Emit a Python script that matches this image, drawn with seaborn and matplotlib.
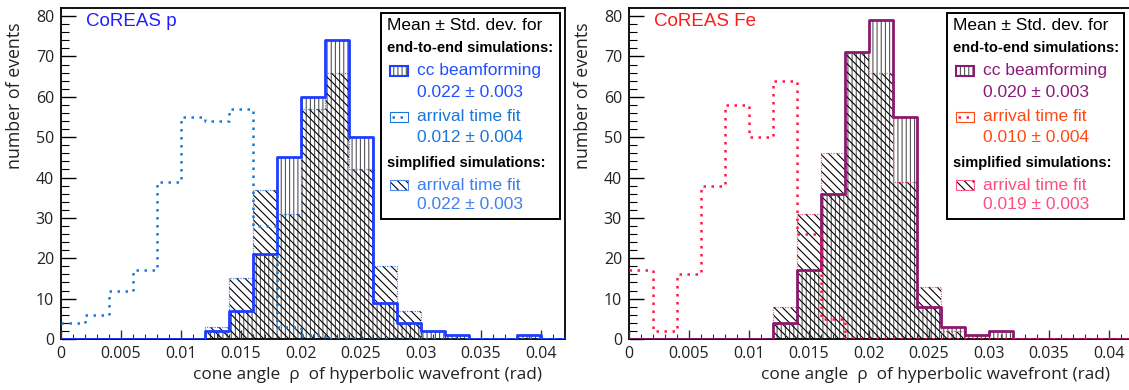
import numpy as np
import matplotlib
matplotlib.use("Agg")
import matplotlib.pyplot as plt
from matplotlib import font_manager
from matplotlib.patches import Rectangle
from matplotlib.ticker import MultipleLocator, FuncFormatter
import seaborn as sns

sns.set_style("ticks")
plt.rcParams['font.family'] = ['Open Sans', 'DejaVu Sans']
plt.rcParams.update({
    'hatch.linewidth': 0.8,
    'axes.axisbelow': False,
    'xtick.direction': 'in', 'ytick.direction': 'in',
    'xtick.labelcolor': '#222222', 'ytick.labelcolor': '#222222',
    'xtick.major.size': 0, 'xtick.minor.size': 0,
    'ytick.major.size': 0, 'ytick.minor.size': 0,
    'xtick.top': False, 'ytick.right': False,
    'xtick.labelsize': 11.5, 'ytick.labelsize': 11.5,
    'xtick.major.pad': 5, 'ytick.major.pad': 5,
})

# 21 bins of 0.002 rad from 0 to 0.042
bin_width = 0.002
bin_edges = np.round(np.arange(22) * bin_width, 3)

# CoREAS proton
p_cc = [0, 0, 0, 0, 0, 0, 2, 7, 21, 45, 60, 74, 50, 9, 4, 2, 1, 0, 0, 1, 0]
p_atf = [4, 6, 12, 17, 39, 55, 54, 57, 28, 3, 1, 0, 0, 0, 0, 0, 0, 0, 0, 0, 0]
p_simp = [0, 0, 0, 0, 0, 0, 3, 15, 37, 31, 57, 66, 42, 18, 7, 0, 0, 0, 0, 0, 0]
p_legend = ["0.022 ± 0.003", "0.012 ± 0.004", "0.022 ± 0.003"]

# CoREAS iron
fe_cc = [0, 0, 0, 0, 0, 0, 4, 17, 36, 71, 79, 55, 8, 3, 1, 2, 0, 0, 0, 0, 0]
fe_atf = [17, 2, 16, 38, 58, 50, 64, 26, 5, 0, 0, 0, 0, 0, 0, 0, 0, 0, 0, 0, 0]
fe_simp = [0, 0, 0, 0, 0, 0, 8, 31, 46, 71, 66, 39, 13, 2, 0, 0, 0, 0, 0, 0, 0]
fe_legend = ["0.020 ± 0.003", "0.010 ± 0.004", "0.019 ± 0.003"]

p_colors = dict(title='#1f1fff', cc='#1f3cff', atf='#1a78d6', simp='#4d8af0',
                cc_txt='#2050ff', atf_txt='#1a78d8', simp_txt='#4080f0')
fe_colors = dict(title='#ff1a1a', cc='#8b1a6e', atf='#ff1a48', simp='#ff5a8a',
                 cc_txt='#8b1a7a', atf_txt='#ff4a14', simp_txt='#ff4d80')

installed = {f.name for f in font_manager.fontManager.ttflist}
if 'Liberation Sans Narrow' in installed:
    bold_font, bold_size = 'Liberation Sans Narrow', 12.5
else:
    bold_font, bold_size = 'Liberation Sans', 10.5
SANS = 'Liberation Sans'


def draw_hist(ax, cc, atf, simp, c):
    centers = bin_edges[:-1] + bin_width / 2
    nb = len(bin_edges) - 1
    rng = (bin_edges[0], bin_edges[-1])
    ax.bar(bin_edges[:-1], cc, width=bin_width, align='edge', facecolor='none',
           edgecolor='#555555', hatch='||||', linewidth=0, zorder=1)
    ax.bar(bin_edges[:-1], simp, width=bin_width, align='edge', facecolor='none',
           edgecolor='black', hatch='\\\\\\\\', linewidth=0, zorder=1)
    sns.histplot(x=centers, weights=simp, bins=nb, binrange=rng, element='step', fill=False,
                 color=c['simp'], linewidth=0.9, linestyle=(0, (1, 1)), ax=ax, zorder=3)
    sns.histplot(x=centers, weights=cc, bins=nb, binrange=rng, element='step', fill=False,
                 color=c['cc'], linewidth=2.0, ax=ax, zorder=3)
    sns.histplot(x=centers, weights=atf, bins=nb, binrange=rng, element='step', fill=False,
                 color=c['atf'], linewidth=1.8, linestyle=(0, (1, 2.2)), ax=ax, zorder=4)


def draw_ticks(ax):
    # ROOT-style inward ticks, drawn as plain line segments
    ytf = ax.get_yaxis_transform()
    xtf = ax.get_xaxis_transform()
    y_major = np.arange(0, 81, 10)
    y_minor = np.setdiff1d(np.arange(0, 82, 2), y_major)
    x_major = np.round(np.arange(0, 0.0421, 0.005), 3)
    x_minor = np.setdiff1d(np.round(np.arange(0, 0.0421, 0.001), 3), x_major)
    ax.hlines(y_major, 0, 0.030, transform=ytf, color='black', linewidth=1.0, zorder=2.6,
              clip_on=False)
    ax.hlines(y_minor, 0, 0.016, transform=ytf, color='black', linewidth=0.8, zorder=2.6,
              clip_on=False)
    ax.vlines(x_major, 0, 0.027, transform=xtf, color='#333333', linewidth=1.0, zorder=2.6,
              clip_on=False)
    ax.vlines(x_minor, 0, 0.015, transform=xtf, color='#333333', linewidth=0.8, zorder=2.6,
              clip_on=False)


def draw_legend(ax, x0, x1, vals, c):
    ax.add_patch(Rectangle((x0, 0.3625), x1 - x0, 0.985 - 0.3625, transform=ax.transAxes,
                           facecolor='white', edgecolor='black', linewidth=1.4, zorder=5))
    tx = x0 + 0.012
    ax.text(tx, 0.9486, "Mean ± Std. dev. for", transform=ax.transAxes, va='center',
            fontsize=12.5, family=SANS, color='black', zorder=6)
    ax.text(tx, 0.879, "end-to-end simulations:", transform=ax.transAxes, va='center',
            fontsize=bold_size, family=bold_font, fontweight='bold', color='black', zorder=6)
    ax.text(tx, 0.532, "simplified simulations:", transform=ax.transAxes, va='center',
            fontsize=bold_size, family=bold_font, fontweight='bold', color='black', zorder=6)

    mx, mw, mh = x0 + 0.018, 0.036, 0.03
    ex = x0 + 0.071
    entries = [("cc beamforming", vals[0], c['cc_txt'], 0.8097, 0.746),
               ("arrival time fit", vals[1], c['atf_txt'], 0.671, 0.610),
               ("arrival time fit", vals[2], c['simp_txt'], 0.465, 0.405)]
    for label, val, col, y1, y2 in entries:
        ax.text(ex, y1, label, transform=ax.transAxes, va='center', fontsize=12.5,
                family=SANS, color=col, zorder=6)
        ax.text(ex, y2, val, transform=ax.transAxes, va='center', fontsize=12.5,
                family=SANS, color=col, zorder=6)

    # markers
    y = 0.8097 - mh / 2
    ax.add_patch(Rectangle((mx, y), mw, mh, transform=ax.transAxes, facecolor='white',
                           edgecolor='#555555', hatch='||||', linewidth=0, zorder=6))
    ax.add_patch(Rectangle((mx, y), mw, mh, transform=ax.transAxes, facecolor='none',
                           edgecolor=c['cc'], linewidth=1.5, zorder=7))
    y = 0.671 - mh / 2
    ax.add_patch(Rectangle((mx, y), mw, mh, transform=ax.transAxes, facecolor='white',
                           edgecolor=c['atf_txt'], linewidth=0.8, zorder=6))
    ax.plot([mx + 0.004, mx + mw - 0.002], [0.671, 0.671], transform=ax.transAxes,
            color=c['atf'], linewidth=1.8, linestyle=(0, (1, 2.2)), zorder=7)
    y = 0.465 - mh / 2
    ax.add_patch(Rectangle((mx, y), mw, mh, transform=ax.transAxes, facecolor='white',
                           edgecolor='black', hatch='\\\\\\\\', linewidth=0, zorder=6))
    ax.add_patch(Rectangle((mx, y), mw, mh, transform=ax.transAxes, facecolor='none',
                           edgecolor=c['simp'], linewidth=0.8, zorder=7))


def style_axes(ax, title, c):
    ax.set_axisbelow(False)
    ax.set_xlim(0, 0.042)
    ax.set_ylim(0, 82)
    ax.xaxis.set_major_locator(MultipleLocator(0.005))
    ax.yaxis.set_major_locator(MultipleLocator(10))
    ax.xaxis.set_major_formatter(FuncFormatter(lambda v, pos: f"{v:g}"))
    ax.tick_params(axis='both', which='both', length=0)
    for s in ax.spines.values():
        s.set_linewidth(1.3)
        s.set_color('black')
    ax.set_xlabel("cone angle  ρ  of hyperbolic wavefront (rad)", fontsize=12.4,
                  ha='right', va='center', color='#222222')
    ax.xaxis.set_label_coords(0.954, -0.109)
    ax.set_ylabel("number of events", fontsize=12.8, ha='right', va='center',
                  color='#222222')
    ax.yaxis.set_label_coords(-0.091, 0.955)
    ax.text(0.05, 0.958, title, transform=ax.transAxes, va='center', fontsize=13.5,
            family=SANS, color=c['title'], zorder=6)
    draw_ticks(ax)


fig = plt.figure(figsize=(11.29, 3.90), dpi=100)
ax1 = fig.add_axes([0.0540, 0.1308, 0.4464, 0.8487])
ax2 = fig.add_axes([0.5571, 0.1308, 0.4464, 0.8487])

draw_hist(ax1, p_cc, p_atf, p_simp, p_colors)
style_axes(ax1, "CoREAS p", p_colors)
draw_legend(ax1, 0.635, 0.990, p_legend, p_colors)

draw_hist(ax2, fe_cc, fe_atf, fe_simp, fe_colors)
style_axes(ax2, "CoREAS Fe", fe_colors)
draw_legend(ax2, 0.631, 0.982, fe_legend, fe_colors)

fig.savefig("out.png", dpi=100)
